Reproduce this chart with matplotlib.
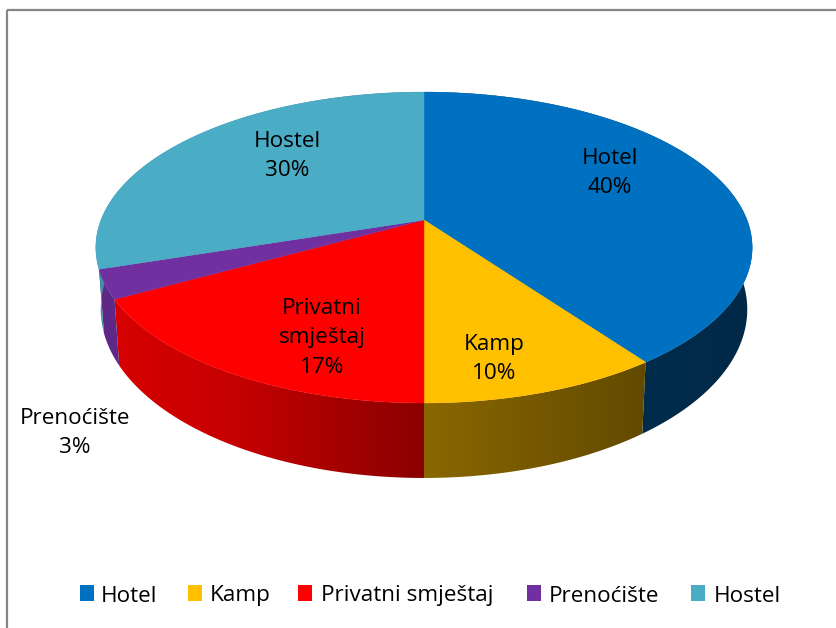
import numpy as np
import matplotlib
matplotlib.use('Agg')
import matplotlib.pyplot as plt
from matplotlib.colors import to_rgb
from matplotlib.patches import PathPatch, Rectangle
from matplotlib.path import Path

# data
categories = ['Hotel', 'Kamp', 'Privatni smještaj', 'Prenoćište', 'Hostel']
shares = [40, 10, 17, 3, 30]
colors = ['#0070C0', '#FFC000', '#FF0000', '#7030A0', '#4BACC6']

plt.rcParams['font.family'] = ['Open Sans', 'DejaVu Sans']

# the axes run in pixels so layout can be read straight off the reference
fig = plt.figure(figsize=(8.36, 6.28), dpi=100)
ax = fig.add_axes([0, 0, 1, 1])
ax.set_axis_off()

# chart frame, runs off the right and bottom of the picture
ax.add_patch(Rectangle((6.5, 9.5), 840, 640, fill=False, edgecolor='#868686', linewidth=1.6))

# perspective of the pie
cx, cy = 424, 220
rx, ry, persp = 323, 150.6, 0.177


def top_edge(t):
    s = 1 / (1 + persp * np.sin(t))
    return cx + rx * np.cos(t) * s, cy - ry * np.sin(t) * s


def bottom_edge(t):
    x, y = top_edge(t)
    return cx + (x - cx) * 0.985, cy + 59.6 + (y - cy) * 1.084


def side_shade(x):
    # darkening of the side wall from left to right
    return np.interp((x - cx) / rx, [-1, -0.6, 0, 0.65, 1], [0.85, 0.78, 0.54, 0.39, 0.37])


starts = 90 - 3.6 * np.concatenate([[0], np.cumsum(shares)[:-1]])
ends = 90 - 3.6 * np.cumsum(shares)

# side walls: a horizontal gradient clipped to each slice's wall
grad_x = np.linspace(80, 770, 700)
for a0, a1, col in zip(starts, ends, colors):
    t = np.radians(np.linspace(a0, a1, 300))
    tx, ty = top_edge(t)
    bx, by = bottom_edge(t)
    wall = Path(np.column_stack([np.r_[tx, bx[::-1], tx[0]], np.r_[ty, by[::-1], ty[0]]]), closed=True)
    patch = PathPatch(wall, facecolor='none', edgecolor='none', transform=ax.transData)
    ax.add_patch(patch)
    grad = side_shade(grad_x)[None, :, None] * np.array(to_rgb(col))[None, None, :]
    im = ax.imshow(grad, extent=(80, 770, 500, 80), aspect='auto', interpolation='bilinear')
    im.set_clip_path(patch)

# top faces
for a0, a1, col in zip(starts, ends, colors):
    t = np.radians(np.linspace(a0, a1, 200))
    x, y = top_edge(t)
    ax.fill(np.r_[cx, x], np.r_[cy, y], color=col, linewidth=0.3)

# data labels
label_pos = [(610, 172), (494, 358), (322, 337), (75, 432), (287, 155)]
label_txt = ['Hotel', 'Kamp', 'Privatni\nsmještaj', 'Prenoćište', 'Hostel']
for (lx, ly), name, val in zip(label_pos, label_txt, shares):
    ax.text(lx, ly + 1, f'{name}\n{val}%', ha='center', va='center', fontsize=16.2,
            color='black', linespacing=1.52)

# legend
key_x = [80, 188, 298, 527, 691]
text_x = [101, 210, 321, 549, 714]
for kx, tx, name, col in zip(key_x, text_x, categories, colors):
    ax.add_patch(Rectangle((kx, 585), 14, 16, facecolor=col, edgecolor='none'))
    ax.text(tx, 596, name, ha='left', va='center', fontsize=16.2, color='black')

ax.set_xlim(0, 836)
ax.set_ylim(628, 0)

fig.savefig('out.png', dpi=100)
